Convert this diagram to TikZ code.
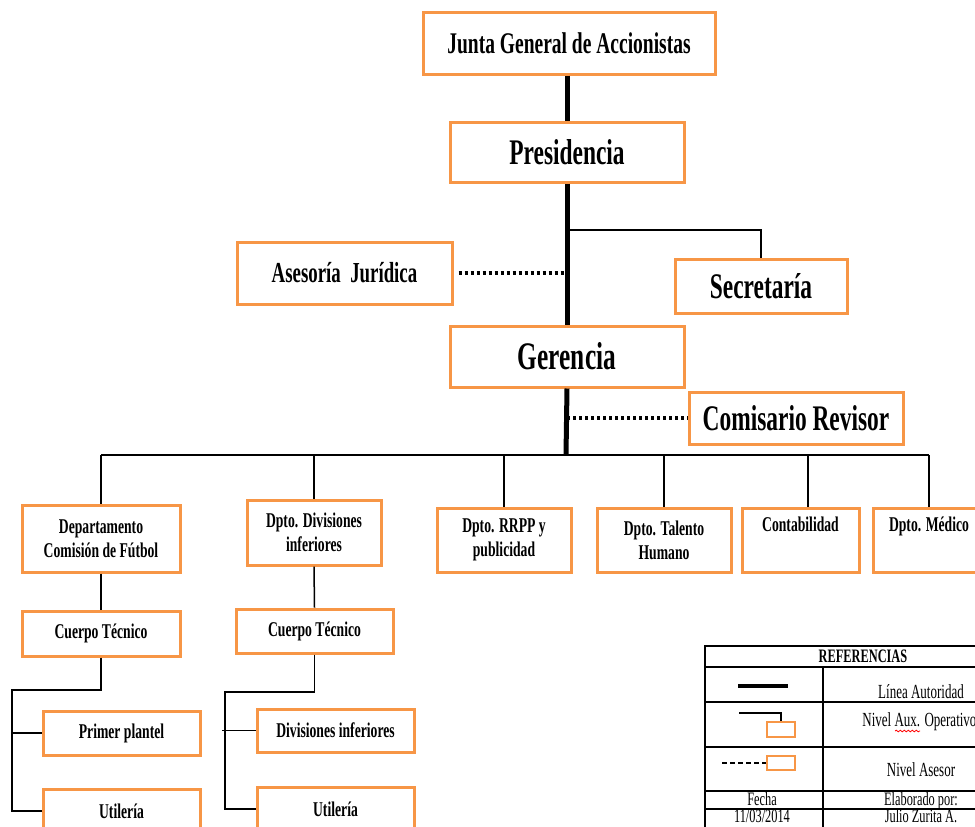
\documentclass[tikz,border=0pt]{standalone}
\usepackage{fontspec}
\setmainfont[FakeStretch=0.65]{Liberation Serif}
\usepackage{tikz}
\usetikzlibrary{decorations.pathmorphing}
\definecolor{boxorange}{RGB}{247,150,70}
\newcommand{\fs}[2]{\fontsize{#1}{#2}\selectfont}
\tikzset{
  unit/.style={draw=boxorange, line width=1.5pt, fill=white, inner sep=1pt, align=center, font=\bfseries},
  dept/.style={unit, font=\bfseries\fs{10.5}{12}},
  authority/.style={line width=2.5pt},
  branch/.style={line width=1.4pt},
  link/.style={line width=0.75pt},
  advice/.style={line width=2pt, dash pattern=on 1.5pt off 1.5pt},
  legend/.style={line width=0.6pt},
  keytext/.style={font=\fs{10}{11}, inner sep=0pt},
  keyrow/.style={keytext, font=\fs{9.5}{10}, text height=6.5pt, text depth=1.2pt}
}

\begin{document}
\begin{tikzpicture}[x=0.5pt, y=-0.5pt]
\useasboundingbox (0,0) rectangle (975,826);
\clip (0,0) rectangle (975,826);

% board, presidency and management
\node[unit, minimum width=146pt, minimum height=31pt, font=\bfseries\fs{15}{18}] (junta) at (569,43) {Junta General de Accionistas};
\node[unit, minimum width=117pt, minimum height=30pt, font=\bfseries\fs{18}{21}] (pres) at (567,152) {Presidencia};
\node[unit, minimum width=107.5pt, minimum height=31pt, font=\bfseries\fs{14.5}{17}] (ases) at (344.5,273) {Asesoría\ \ Jurídica};
\node[unit, minimum width=86pt, minimum height=27pt, font=\bfseries\fs{18}{21}] (secr) at (761,286) {Secretaría};
\node[unit, minimum width=117pt, minimum height=30.5pt, font=\bfseries\fs{19.5}{22}] (ger) at (567,356.5) {Gerencia};
\node[unit, minimum width=107pt, minimum height=26pt, font=\bfseries\fs{18}{21}] (comi) at (796,418) {Comisario Revisor};

\coordinate (secjoin) at (566,230);
\coordinate (bus) at (566,455);

\draw[authority] (junta.south -| pres.north) -- (pres.north);
\draw[authority] (pres.south) -- (ger.north);
\draw[authority] (ger.south) -- (bus);
\draw[branch] (secjoin) -| (secr.north);
\draw[advice] ([xshift=2.5pt]ases.east) -- (ases.east -| pres.south);
\draw[advice] (comi.west -| ger.south) -- (comi.west);

% departments
\node[dept, minimum width=79pt, minimum height=33.5pt] (dep) at (101,538.5) {Departamento\\Comisión de Fútbol};
\node[dept, minimum width=67pt, minimum height=32.5pt] (div) at (314,532.5) {Dpto. Divisiones\\inferiores};
\node[dept, minimum width=67pt, minimum height=32pt] (rrpp) at (504,540) {Dpto. RRPP y\\publicidad};
\node[dept, minimum width=67pt, minimum height=32pt] (tal) at (664,540) {Dpto. Talento\\Humano};
\node[dept, minimum width=58.5pt, minimum height=32pt] (cont) at (800.5,540) {Contabilidad\\ \strut};
\node[dept, minimum width=56pt, minimum height=32pt] (med) at (929,540) {Dpto. Médico\\ \strut};

\draw[link] (dep.north |- bus) -- (med.north |- bus);
\foreach \d in {dep,div,rrpp,tal,med}
  \draw[link] (\d.north) -- (\d.north |- bus);
\draw[link] ([xshift=3.75pt]cont.north) -- ([xshift=3.75pt]cont.north |- bus);

% football staff
\node[dept, minimum width=79pt, minimum height=22.5pt] (cuerl) at (101,633.5) {Cuerpo Técnico};
\node[dept, minimum width=78.5pt, minimum height=22pt] (primer) at (121.5,733) {Primer plantel};
\node[dept, minimum width=78.5pt, minimum height=22pt] (utill) at (121.5,811) {Utilería};
\coordinate (forkl) at (12,690);
\draw[link] (dep.south) -- (cuerl.north);
\draw[link] (cuerl.south) |- (forkl) |- (utill.west);
\draw[link] (forkl |- primer.west) -- (primer.west);

% youth divisions staff
\node[dept, minimum width=78.5pt, minimum height=22pt] (cuerr) at (314.5,631) {Cuerpo Técnico};
\node[dept, minimum width=78.5pt, minimum height=21.5pt] (divi) at (335.5,730.5) {Divisiones inferiores};
\node[dept, minimum width=78.5pt, minimum height=22pt] (utilr) at (335.5,809) {Utilería};
\coordinate (forkr) at (225,692);
\draw[link] (div.south) -- (cuerr.north);
\draw[link] (cuerr.south) |- (forkr) |- (utilr.west);
\draw[link] (divi.west) -- (divi.west -| forkr) -- ++(-1.5pt,0);

% key
\draw[legend] (705,646) rectangle (1021,840);
\foreach \y in {667,702,747,791,809}
  \draw[legend] (705,\y) -- (1021,\y);
\draw[legend] (823,667) -- (823,840);

\draw[line width=2pt] (738,686) -- (788,686);
\node[unit, minimum width=14pt, minimum height=7.5pt, line width=1.2pt] (keyaux) at (781,729.5) {};
\coordinate (keyauxend) at (739,713);
\draw[link] (keyauxend) -| (keyaux.north);
\node[unit, minimum width=14pt, minimum height=7pt, line width=1.2pt] (keyadv) at (781,763) {};
\coordinate (keyadvend) at (722,763);
\draw[link, dash pattern=on 2.5pt off 1.5pt] (keyadvend) -- (keyadv.west);

\node[keytext, font=\bfseries\fs{9.5}{11}] (keyhead) at (863,656) {REFERENCIAS};
\node[keytext] (keyauth) at (921,692) {Línea Autoridad};
\node[keytext, anchor=west] (keyauxtxt) at (862,722) {Nivel Aux. Operativo};
\node[keytext] (keyadvtxt) at (921,770) {Nivel Asesor};
\node[keyrow] (keydatehead) at (762,800) {Fecha};
\node[keyrow] (keyauthor) at (921,800) {Elaborado por:};
\node[keyrow] (keydate) at (762,817.5) {11/03/2014};
\node[keyrow] (keyname) at (921,817.5) {Julio Zurita A.};
\draw[red, line width=0.4pt, decorate, decoration={snake, amplitude=0.4pt, segment length=2pt}] (895,731) -- (920,731);
\end{tikzpicture}
\end{document}
